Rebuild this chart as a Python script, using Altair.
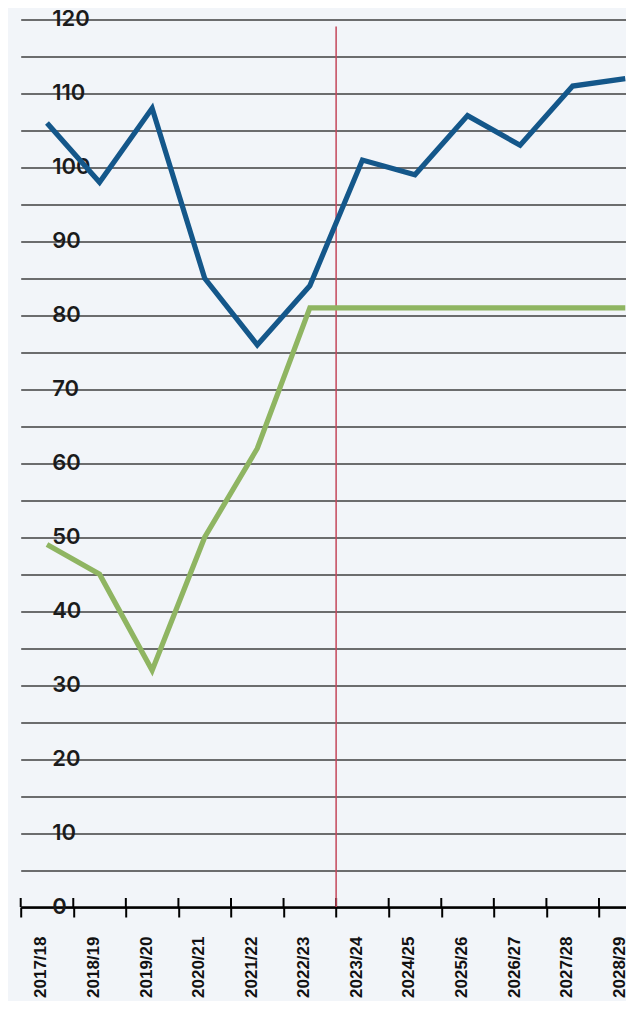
import altair as alt
import pandas as pd

years = ["2017/18", "2018/19", "2019/20", "2020/21", "2021/22", "2022/23",
         "2023/24", "2024/25", "2025/26", "2026/27", "2027/28", "2028/29"]
blue_values = [106, 98, 108, 85, 76, 84, 101, 99, 107, 103, 111, 112]
green_values = [49, 45, 32, 50, 62, 81, 81, 81, 81, 81, 81, 81]
divider_year = ["2023/24"]
y_ticks = list(range(0, 121, 5))

rows = []
for yr, b, g in zip(years, blue_values, green_values):
    rows.append({"year": yr, "series": "blue", "value": b})
    rows.append({"year": yr, "series": "green", "value": g})
df = pd.DataFrame(rows)

W = 605.3
H = 887.5
BAND = 52.57

xscale = alt.Scale(type="band", domain=years, range=[0, BAND * len(years)],
                   paddingInner=0, paddingOuter=0)
yscale = alt.Scale(domain=[0, 120], nice=False, zero=True)

lines = alt.Chart(df).mark_line(strokeWidth=5.2, strokeCap="butt").encode(
    x=alt.X("year:N", scale=xscale, sort=years, bandPosition=0.5,
            axis=alt.Axis(title=None, labelAngle=-90, labelAlign="right",
                          labelBaseline="middle",
                          labelFont="Liberation Sans",
                          labelFontSize=17, labelFontWeight="bold",
                          labelColor="#111111", labelPadding=19,
                          labelOffset=-6,
                          labelOverlap=False, labelBound=False,
                          tickBand="extent", ticks=True, tickSize=10,
                          tickColor="black", tickWidth=2,
                          domainColor="black", domainWidth=2.5, grid=False)),
    y=alt.Y("value:Q", scale=yscale,
            axis=alt.Axis(title=None, values=y_ticks,
                          labelExpr="datum.value % 10 == 0 ? datum.label : ''",
                          grid=True, gridColor="#3f3f3f", gridWidth=1.5,
                          domain=False, ticks=False, tickSize=0,
                          labelPadding=-31, labelAlign="left",
                          labelBaseline="middle", labelFont="Inter",
                          labelFontSize=22, labelFontWeight=600,
                          labelColor="#1b1b1b", labelOffset=-1)),
    color=alt.Color("series:N",
                    scale=alt.Scale(domain=["blue", "green"],
                                    range=["#14578a", "#8fb562"]),
                    legend=None),
    detail="series:N",
)

divider = alt.Chart(pd.DataFrame({"year": divider_year})).mark_rule(
    color="#c3475a", strokeWidth=1.5
).encode(
    x=alt.X("year:N", scale=xscale, sort=years, bandPosition=0),
    y=alt.value(7),
    y2=alt.value(H),
)

up_ticks = alt.Chart(pd.DataFrame({"year": years})).mark_rule(
    color="black", strokeWidth=2
).encode(
    x=alt.X("year:N", scale=xscale, sort=years, bandPosition=0),
    y=alt.value(H - 9),
    y2=alt.value(H),
)

chart = alt.layer(up_ticks, divider, lines).properties(
    width=W, height=H,
    padding={"left": 12.7, "top": 11.5, "right": 0, "bottom": 94},
    autosize="none",
    background="#f2f5f9",
).configure_view(stroke=None)

chart.save("out.html", embed_options={"renderer": "svg", "actions": False})
